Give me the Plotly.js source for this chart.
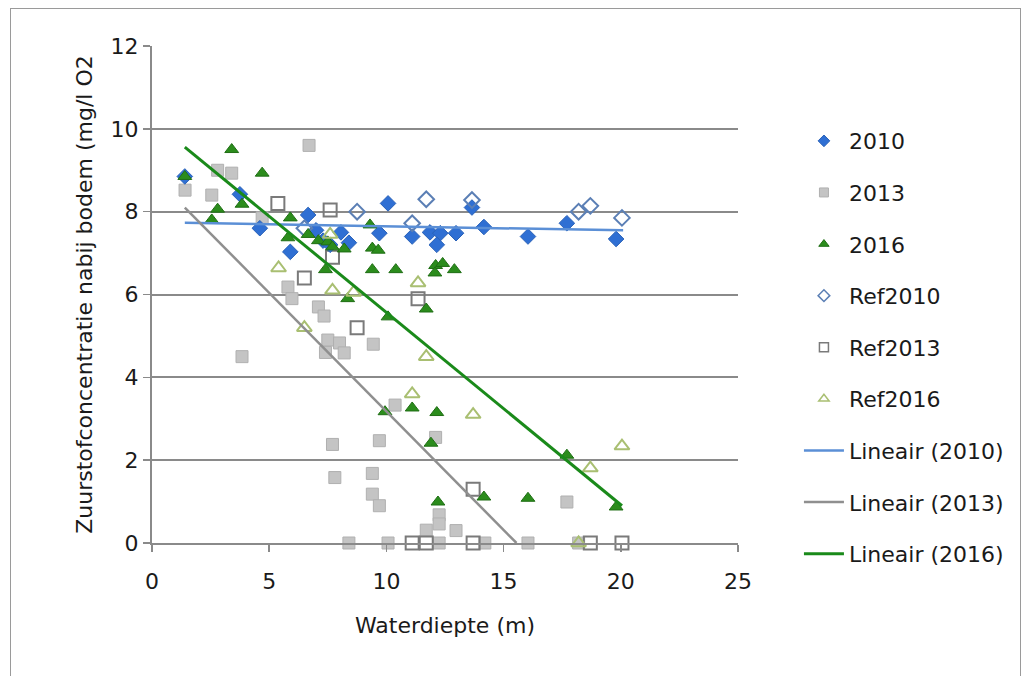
<!DOCTYPE html>
<html>
<head>
<meta charset="utf-8">
<script src="https://cdn.plot.ly/plotly-3.0.1.min.js"></script>
<style>
  html, body { margin: 0; padding: 0; background: #fff; }
  #frame { position: absolute; left: 10px; top: 8px; width: 1011px; height: 700px; border: 1px solid #9a9a9a; box-sizing: border-box; pointer-events: none; z-index: 5; }
  #chart { position: absolute; left: 0; top: 0; width: 1032px; height: 676px; }
</style>
</head>
<body>
<div id="chart"></div>
<div id="frame"></div>
<script>
// --- Data ---
const x2010 = [1.4, 3.75, 4.6, 5.9, 6.66, 7.0, 7.3, 7.6, 8.06, 8.4, 9.7, 10.07, 11.1, 11.86, 12.3, 12.15, 12.97, 13.65, 14.16, 16.04, 17.7, 19.8];
const y2010 = [8.85, 8.42, 7.6, 7.03, 7.92, 7.55, 7.3, 7.2, 7.5, 7.25, 7.48, 8.2, 7.4, 7.5, 7.48, 7.2, 7.48, 8.1, 7.63, 7.4, 7.72, 7.34];

const x2013 = [1.41, 2.55, 2.8, 3.4, 4.7, 6.7, 3.84, 5.8, 5.97, 7.1, 7.34, 7.5, 8.0, 7.4, 8.2, 9.44, 10.37, 9.7, 12.1, 9.4, 9.4, 9.7, 12.25, 12.25, 11.7, 12.97, 7.7, 7.8, 17.7, 8.4, 10.07, 12.25, 14.2, 16.04, 18.2];
const y2013 = [8.52, 8.4, 9.0, 8.93, 7.85, 9.6, 4.5, 6.18, 5.9, 5.7, 5.48, 4.9, 4.83, 4.6, 4.59, 4.8, 3.33, 2.47, 2.55, 1.68, 1.18, 0.9, 0.68, 0.46, 0.31, 0.3, 2.38, 1.58, 0.99, 0, 0, 0, 0, 0, 0];

const x2016 = [1.4, 2.55, 2.8, 3.4, 3.84, 4.7, 5.9, 5.8, 6.66, 7.1, 7.5, 7.7, 8.2, 7.4, 8.35, 9.3, 9.4, 9.65, 9.4, 10.4, 12.1, 12.4, 12.9, 12.07, 10.07, 11.7, 9.94, 11.1, 12.15, 11.9, 12.2, 14.16, 16.04, 17.7, 19.8];
const y2016 = [8.85, 7.8, 8.06, 9.5, 8.18, 8.93, 7.85, 7.37, 7.45, 7.3, 7.27, 7.15, 7.1, 6.6, 5.9, 7.68, 7.12, 7.07, 6.6, 6.6, 6.7, 6.75, 6.6, 6.52, 5.46, 5.65, 3.17, 3.26, 3.15, 2.41, 0.99, 1.11, 1.08, 2.12, 0.87];

const xRef2010 = [6.5, 8.75, 11.1, 11.7, 13.65, 18.2, 18.7, 20.05];
const yRef2010 = [7.6, 8.0, 7.72, 8.3, 8.28, 8.0, 8.14, 7.85];

const xRef2013 = [5.37, 7.6, 7.7, 6.5, 11.35, 8.75, 13.7, 11.1, 11.7, 13.7, 18.7, 20.05];
const yRef2013 = [8.2, 8.04, 6.9, 6.4, 5.9, 5.2, 1.3, 0, 0, 0, 0, 0];

const xRef2016 = [5.4, 6.5, 7.6, 7.7, 8.6, 11.35, 11.7, 11.1, 13.7, 18.2, 18.7, 20.05];
const yRef2016 = [6.64, 5.2, 7.45, 6.1, 6.05, 6.28, 4.5, 3.6, 3.1, 0.0, 1.81, 2.34];

// Trend line endpoints
const xLin2010 = [1.4, 20.1];
const yLin2010 = [7.73, 7.55];
const xLin2013 = [1.4, 15.55];
const yLin2013 = [8.1, 0];
const xLin2016 = [1.4, 20.05];
const yLin2016 = [9.56, 0.9];

const xTicks = [0, 5, 10, 15, 20, 25];
const yTicks = [0, 2, 4, 6, 8, 10, 12];

const FONT = 'DejaVu Sans, Liberation Sans, Arial, sans-serif';
const TXT = '#1a1a1a';

const styles = {
  '2010':    { symbol: 'diamond', color: '#2f6fd3', line: { color: '#2a62b8', width: 1 } },
  '2013':    { symbol: 'square', color: '#c4c4c4', line: { color: '#b0b0b0', width: 1 } },
  '2016':    { symbol: 'triangle-up', color: '#2b8c1c', line: { color: '#1f6e14', width: 1 } },
  'Ref2010': { symbol: 'diamond-open', color: '#5b7fb5', line: { color: '#5b7fb5', width: 2 } },
  'Ref2013': { symbol: 'square-open', color: '#7a7a7a', line: { color: '#7a7a7a', width: 2 } },
  'Ref2016': { symbol: 'triangle-up-open', color: '#a9bf72', line: { color: '#a9bf72', width: 2 } }
};

function pts(name, x, y, size) {
  const m = Object.assign({ size: size }, styles[name]);
  return { type: 'scatter', mode: 'markers', name: name, x: x, y: y,
           showlegend: false, marker: m, cliponaxis: false };
}
function legendPts(name, rank) {
  const m = Object.assign({ size: 9 }, styles[name]);
  m.line = Object.assign({}, m.line, { width: Math.min(m.line.width, 1.5) });
  return { type: 'scatter', mode: 'markers', name: name, x: [null], y: [null],
           legendgroup: name, legendrank: rank, marker: m };
}
function line(name, x, y, color, width, rank) {
  return { type: 'scatter', mode: 'lines', name: name, x: x, y: y,
           legendgroup: name, legendrank: rank, line: { color: color, width: width } };
}

const traces = [
  pts('2013', x2013, y2013, 12),
  pts('Ref2013', xRef2013, yRef2013, 13),
  pts('2010', x2010, y2010, 12),
  pts('Ref2010', xRef2010, yRef2010, 12),
  pts('2016', x2016, y2016, 12),
  pts('Ref2016', xRef2016, yRef2016, 13),
  legendPts('2010', 1), legendPts('2013', 2), legendPts('2016', 3),
  legendPts('Ref2010', 4), legendPts('Ref2013', 5), legendPts('Ref2016', 6),
  line('Lineair (2010)', xLin2010, yLin2010, '#5b8fd6', 2.5, 7),
  line('Lineair (2013)', xLin2013, yLin2013, '#8f8f8f', 2.5, 8),
  line('Lineair (2016)', xLin2016, yLin2016, '#1a8a1a', 3, 9)
];

const layout = {
  width: 1032, height: 676,
  margin: { l: 152, r: 294, t: 46, b: 133, pad: 0 },
  paper_bgcolor: '#ffffff', plot_bgcolor: '#ffffff',
  font: { family: FONT, size: 22, color: TXT },
  showlegend: true,
  legend: {
    x: 1.104, xanchor: 'left', y: 0.851, yanchor: 'top',
    font: { family: FONT, size: 22, color: TXT },
    tracegroupgap: 20, itemwidth: 40, bgcolor: 'rgba(0,0,0,0)'
  },
  xaxis: {
    range: [0, 25], tickmode: 'array', tickvals: xTicks, ticktext: xTicks.map(String),
    showgrid: false, zeroline: false, showline: true, linecolor: '#8a8a8a', linewidth: 2,
    ticks: 'outside', ticklen: 7, tickcolor: '#8a8a8a', tickwidth: 1.5,
    ticklabelstandoff: 11,
    tickfont: { family: FONT, size: 22, color: TXT },
    title: { text: 'Waterdiepte (m)', font: { family: FONT, size: 22, color: TXT }, standoff: 24 }
  },
  yaxis: {
    range: [0, 12], tickmode: 'array', tickvals: yTicks, ticktext: yTicks.map(String),
    showgrid: true, gridcolor: '#8a8a8a', gridwidth: 2,
    zeroline: false, showline: true, linecolor: '#8a8a8a', linewidth: 2,
    ticks: 'outside', ticklen: 7, tickcolor: '#8a8a8a', tickwidth: 1.5,
    tickfont: { family: FONT, size: 22, color: TXT },
    title: { text: 'Zuurstofconcentratie nabij bodem (mg/l O2', font: { family: FONT, size: 22, color: TXT }, standoff: 12 }
  }
};

Plotly.newPlot('chart', traces, layout, { displayModeBar: false, staticPlot: true });
</script>
</body>
</html>
